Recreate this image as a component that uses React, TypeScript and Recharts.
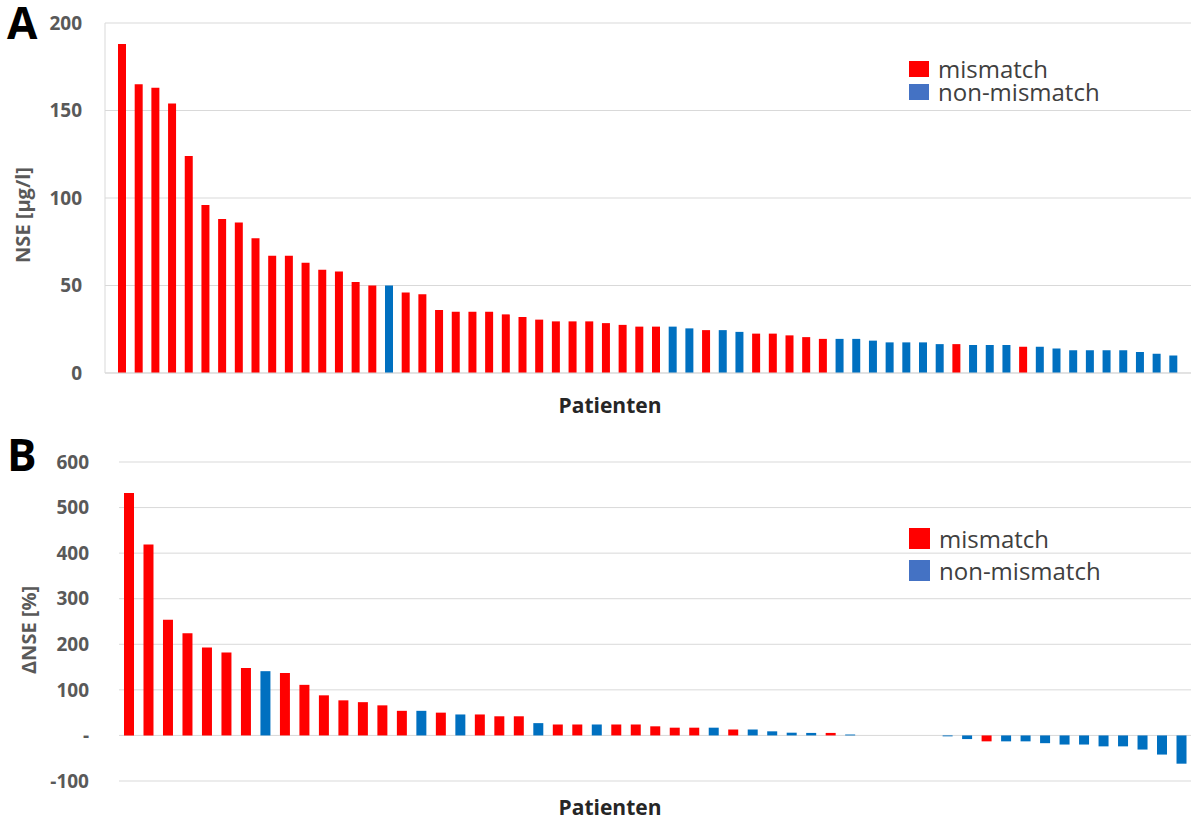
import React from 'react';
import { BarChart, Bar, XAxis, YAxis, CartesianGrid, Legend } from 'recharts';

// A: NSE per patient (µg/l), sorted descending
const nseValues = [
  188, 165, 163, 154, 124, 96, 88, 86, 77, 67, 67, 63, 59, 58, 52, 50,
  50, 46, 45, 36, 35, 35, 35, 33.5, 32, 30.5, 29.5, 29.5, 29.5, 28.5, 27.5, 26.5,
  26.5, 26.5, 25.5, 24.5, 24.5, 23.5, 22.5, 22.5, 21.5, 20.5, 19.5, 19.5, 19.5, 18.5, 17.5, 17.5,
  17.5, 16.5, 16.5, 16, 16, 16, 15, 15, 14, 13, 13, 13, 13, 12, 11, 10,
];
// m = mismatch, n = non-mismatch
const nseGroups = [
  'm', 'm', 'm', 'm', 'm', 'm', 'm', 'm', 'm', 'm', 'm', 'm', 'm', 'm', 'm', 'm',
  'n', 'm', 'm', 'm', 'm', 'm', 'm', 'm', 'm', 'm', 'm', 'm', 'm', 'm', 'm', 'm',
  'm', 'n', 'n', 'm', 'n', 'n', 'm', 'm', 'm', 'm', 'm', 'n', 'n', 'n', 'n', 'n',
  'n', 'n', 'm', 'n', 'n', 'n', 'm', 'n', 'n', 'n', 'n', 'n', 'n', 'n', 'n', 'n',
];

// B: ΔNSE per patient (%)
const deltaValues = [
  532, 419, 254, 224, 193, 182, 148, 141, 137, 111, 88, 77, 73, 66, 54, 54,
  50, 46, 46, 42, 42, 27, 24, 24, 24, 24, 24, 20, 17, 17, 17, 13,
  13, 9, 6, 5.5, 5.5, 2, 0, 0, 0, 0, -2, -8, -13, -13,
  -13, -17, -20, -20, -24, -24, -31, -42, -62,
];
const deltaGroups = [
  'm', 'm', 'm', 'm', 'm', 'm', 'm', 'n', 'm', 'm', 'm', 'm', 'm', 'm', 'm', 'n',
  'm', 'n', 'm', 'm', 'm', 'n', 'm', 'm', 'n', 'm', 'm', 'm', 'm', 'm', 'n', 'm',
  'n', 'n', 'n', 'n', 'm', 'n', 'n', 'n', 'n', 'n', 'n', 'n', 'm', 'n',
  'n', 'n', 'n', 'n', 'n', 'n', 'n', 'n', 'n',
];

const nseTicks = [0, 50, 100, 150, 200];
const deltaTicks = [-100, 0, 100, 200, 300, 400, 500, 600];

const RED = '#ff0000';
const BLUE = '#0070c0';
const LEGEND_BLUE = '#4472c4';
const GRID = '#d9d9d9';
const FONT = '"Open Sans", sans-serif';

const toRows = (values: number[], groups: string[]) =>
  values.map((v, i) => ({
    patient: i + 1,
    mismatch: groups[i] === 'm' ? v : null,
    nonMismatch: groups[i] === 'n' ? v : null,
  }));

const nseData = toRows(nseValues, nseGroups);
const deltaData = toRows(deltaValues, deltaGroups);

const tickStyle = { fontSize: 19, fontWeight: 700, fill: '#595959', fontFamily: FONT };

const LegendBox = ({ rowHeight, boxW, boxH }: { rowHeight: number; boxW: number; boxH: number }) => (
  <div style={{ fontFamily: FONT, fontSize: 24, color: '#404040', lineHeight: `${rowHeight - 1}px` }}>
    {[
      ['mismatch', RED],
      ['non-mismatch', LEGEND_BLUE],
    ].map(([label, c]) => (
      <div key={label} style={{ display: 'flex', alignItems: 'center', height: rowHeight, whiteSpace: 'nowrap' }}>
        <span style={{ display: 'inline-block', width: boxW, height: boxH, background: c, marginRight: 9 }} />
        <span>{label}</span>
      </div>
    ))}
  </div>
);

const yTitle = (text: string, x: number, y: number) => () => (
  <text
    x={x}
    y={y}
    transform={`rotate(-90 ${x} ${y})`}
    textAnchor="middle"
    dominantBaseline="central"
    fontFamily={FONT}
    fontSize={20}
    fontWeight={700}
    fill="#595959"
  >
    {text}
  </text>
);

const xTitle = (x: number, y: number) => () => (
  <text x={x} y={y} textAnchor="middle" fontFamily={FONT} fontSize={21} fontWeight={700} fill="#262626">
    Patienten
  </text>
);

const letterStyle: React.CSSProperties = {
  position: 'absolute',
  left: 7,
  fontFamily: FONT,
  fontSize: 44,
  fontWeight: 700,
  lineHeight: '36px',
  color: '#000',
};

export default function App() {
  return (
    <div style={{ position: 'absolute', left: 0, top: 0, width: 1196, height: 822, background: '#fff' }}>
      <div style={{ ...letterStyle, top: 4 }}>A</div>
      <div style={{ ...letterStyle, top: 436 }}>B</div>

      <div style={{ position: 'absolute', left: 0, top: 0 }}>
        <BarChart width={1196} height={430} data={nseData} margin={{ top: 23, right: 5, bottom: 12, left: 0 }}>
          <CartesianGrid vertical={false} stroke={GRID} />
          <XAxis
            dataKey="patient"
            tick={false}
            tickLine={false}
            axisLine={{ stroke: GRID }}
            height={45}
            padding={{ left: 9, right: 9 }}
            label={{ content: xTitle(610, 413) }}
          />
          <YAxis
            domain={[0, 200]}
            ticks={nseTicks}
            width={105}
            tickLine={false}
            tickSize={0}
            tickMargin={23}
            axisLine={{ stroke: GRID }}
            tick={tickStyle}
            label={{ content: yTitle('NSE [µg/l]', 22, 215) }}
          />
          <Legend
            layout="vertical"
            align="center"
            verticalAlign="middle"
            wrapperStyle={{ left: 909, top: 57, width: 'auto' }}
            content={() => <LegendBox rowHeight={23} boxW={20} boxH={16} />}
          />
          <Bar dataKey="mismatch" name="mismatch" stackId="s" fill={RED} barSize={8} isAnimationActive={false} />
          <Bar dataKey="nonMismatch" name="non-mismatch" stackId="s" fill={BLUE} barSize={8} isAnimationActive={false} />
        </BarChart>
      </div>

      <div style={{ position: 'absolute', left: 0, top: 430 }}>
        <BarChart width={1196} height={392} data={deltaData} margin={{ top: 32, right: 5, bottom: 6, left: 0 }}>
          <CartesianGrid vertical={false} stroke={GRID} />
          <XAxis
            dataKey="patient"
            tick={false}
            tickLine={false}
            axisLine={false}
            height={35}
            label={{ content: xTitle(610, 385) }}
          />
          <YAxis
            domain={[-100, 600]}
            ticks={deltaTicks}
            width={119}
            tickLine={false}
            tickSize={0}
            tickMargin={30}
            axisLine={false}
            tick={tickStyle}
            tickFormatter={(v: number) => (v === 0 ? '-' : String(v))}
            label={{ content: yTitle('ΔNSE [%]', 28, 200) }}
          />
          <Legend
            layout="vertical"
            align="center"
            verticalAlign="middle"
            wrapperStyle={{ left: 909, top: 92, width: 'auto' }}
            content={() => <LegendBox rowHeight={32} boxW={21} boxH={21} />}
          />
          <Bar dataKey="mismatch" name="mismatch" stackId="s" fill={RED} barSize={10} isAnimationActive={false} />
          <Bar dataKey="nonMismatch" name="non-mismatch" stackId="s" fill={BLUE} barSize={10} isAnimationActive={false} />
        </BarChart>
      </div>
    </div>
  );
}
